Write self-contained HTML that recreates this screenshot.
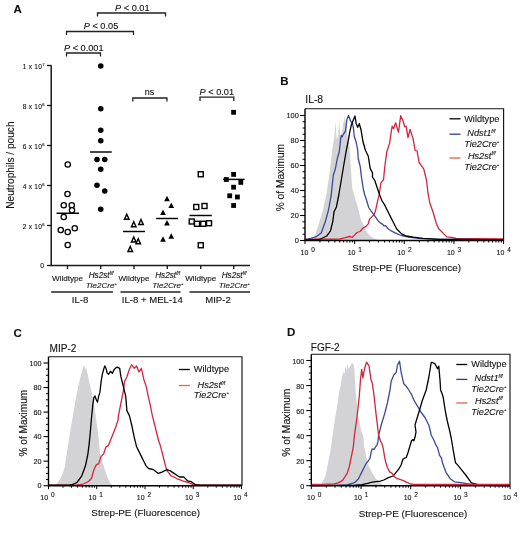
<!DOCTYPE html>
<html><head><meta charset="utf-8"><style>
html,body{margin:0;padding:0;background:#fff;}
svg{display:block;filter:blur(0.3px);}
text{font-family:"Liberation Sans", sans-serif;fill:#111;stroke:#1a1a1a;stroke-width:0.12px;}
</style></head><body>
<svg width="520" height="559" viewBox="0 0 520 559">
<rect width="520" height="559" fill="#fff"/>
<text x="13.5" y="13" font-size="11.5" font-weight="bold">A</text>
<path d="M97.5 16.5 V13.0 H165.5 V16.5" fill="none" stroke="#222" stroke-width="1.3"/>
<path d="M66.5 35.0 V31.5 H133.5 V35.0" fill="none" stroke="#222" stroke-width="1.3"/>
<path d="M66.5 56.5 V53.0 H100.5 V56.5" fill="none" stroke="#222" stroke-width="1.3"/>
<path d="M132.8 101.5 V98.0 H166.9 V101.5" fill="none" stroke="#222" stroke-width="1.3"/>
<path d="M200.0 101.0 V97.2 H233.8 V101.0" fill="none" stroke="#222" stroke-width="1.3"/>
<text x="132.3" y="10.5" font-size="9.2" text-anchor="middle"><tspan font-style="italic">P</tspan> &lt; 0.01</text>
<text x="101.0" y="29.0" font-size="9.2" text-anchor="middle"><tspan font-style="italic">P</tspan> &lt; 0.05</text>
<text x="83.8" y="51.0" font-size="9.2" text-anchor="middle"><tspan font-style="italic">P</tspan> &lt; 0.001</text>
<text x="216.8" y="94.8" font-size="9.2" text-anchor="middle"><tspan font-style="italic">P</tspan> &lt; 0.01</text>
<text x="149.5" y="95" font-size="9" text-anchor="middle">ns</text>
<path d="M51.2 65.5 V265.5 H250" fill="none" stroke="#1a1a1a" stroke-width="1.5"/>
<line x1="47" y1="265.5" x2="51.5" y2="265.5" stroke="#111" stroke-width="1.3"/>
<text x="44" y="268.3" font-size="6.8" text-anchor="end" fill="#222">0</text>
<line x1="47" y1="225.5" x2="51.5" y2="225.5" stroke="#111" stroke-width="1.3"/>
<text x="44.8" y="228.7" font-size="6.6" letter-spacing="0.25" text-anchor="end" fill="#222">2 x 10<tspan font-size="4.2" dy="-2.7">6</tspan></text>
<line x1="47" y1="185.5" x2="51.5" y2="185.5" stroke="#111" stroke-width="1.3"/>
<text x="44.8" y="188.7" font-size="6.6" letter-spacing="0.25" text-anchor="end" fill="#222">4 x 10<tspan font-size="4.2" dy="-2.7">6</tspan></text>
<line x1="47" y1="145.5" x2="51.5" y2="145.5" stroke="#111" stroke-width="1.3"/>
<text x="44.8" y="148.7" font-size="6.6" letter-spacing="0.25" text-anchor="end" fill="#222">6 x 10<tspan font-size="4.2" dy="-2.7">6</tspan></text>
<line x1="47" y1="105.5" x2="51.5" y2="105.5" stroke="#111" stroke-width="1.3"/>
<text x="44.8" y="108.7" font-size="6.6" letter-spacing="0.25" text-anchor="end" fill="#222">8 x 10<tspan font-size="4.2" dy="-2.7">6</tspan></text>
<line x1="47" y1="65.5" x2="51.5" y2="65.5" stroke="#111" stroke-width="1.3"/>
<text x="44.8" y="68.7" font-size="6.6" letter-spacing="0.25" text-anchor="end" fill="#222">1 x 10<tspan font-size="4.2" dy="-2.7">7</tspan></text>
<line x1="67.50" y1="265.5" x2="67.50" y2="269" stroke="#111" stroke-width="1.3"/>
<line x1="100.75" y1="265.5" x2="100.75" y2="269" stroke="#111" stroke-width="1.3"/>
<line x1="134.00" y1="265.5" x2="134.00" y2="269" stroke="#111" stroke-width="1.3"/>
<line x1="167.25" y1="265.5" x2="167.25" y2="269" stroke="#111" stroke-width="1.3"/>
<line x1="200.75" y1="265.5" x2="200.75" y2="269" stroke="#111" stroke-width="1.3"/>
<line x1="233.75" y1="265.5" x2="233.75" y2="269" stroke="#111" stroke-width="1.3"/>
<text x="67.50" y="281.4" font-size="8.1" text-anchor="middle">Wildtype</text>
<text x="101.05" y="278.1" font-size="8.2" font-style="italic" text-anchor="middle">Hs2st<tspan font-size="4.5" dy="-3">f/f</tspan></text>
<text x="101.25" y="288.3" font-size="8.1" font-style="italic" text-anchor="middle">Tie2Cre<tspan font-size="4" dy="-3.4">+</tspan></text>
<text x="134.00" y="281.4" font-size="8.1" text-anchor="middle">Wildtype</text>
<text x="167.55" y="278.1" font-size="8.2" font-style="italic" text-anchor="middle">Hs2st<tspan font-size="4.5" dy="-3">f/f</tspan></text>
<text x="167.75" y="288.3" font-size="8.1" font-style="italic" text-anchor="middle">Tie2Cre<tspan font-size="4" dy="-3.4">+</tspan></text>
<text x="200.75" y="281.4" font-size="8.1" text-anchor="middle">Wildtype</text>
<text x="234.05" y="278.1" font-size="8.2" font-style="italic" text-anchor="middle">Hs2st<tspan font-size="4.5" dy="-3">f/f</tspan></text>
<text x="234.25" y="288.3" font-size="8.1" font-style="italic" text-anchor="middle">Tie2Cre<tspan font-size="4" dy="-3.4">+</tspan></text>
<line x1="51.25" y1="292" x2="113.00" y2="292" stroke="#222" stroke-width="1.6"/>
<text x="80.00" y="302.8" font-size="9.6" text-anchor="middle">IL-8</text>
<line x1="120.50" y1="292" x2="180.50" y2="292" stroke="#222" stroke-width="1.6"/>
<text x="152.25" y="302.8" font-size="9.6" text-anchor="middle">IL-8 + MEL-14</text>
<line x1="189.50" y1="292" x2="250.00" y2="292" stroke="#222" stroke-width="1.6"/>
<text x="218.00" y="302.8" font-size="9.6" text-anchor="middle">MIP-2</text>
<text transform="translate(14.2,165.1) rotate(-90)" font-size="10.15" text-anchor="middle">Neutrophils / pouch</text>
<circle cx="67.75" cy="164.50" r="2.65" fill="#fff" stroke="#000" stroke-width="1.3"/>
<circle cx="67.50" cy="194.00" r="2.65" fill="#fff" stroke="#000" stroke-width="1.3"/>
<circle cx="63.75" cy="205.25" r="2.65" fill="#fff" stroke="#000" stroke-width="1.3"/>
<circle cx="71.75" cy="205.25" r="2.65" fill="#fff" stroke="#000" stroke-width="1.3"/>
<circle cx="72.00" cy="210.25" r="2.65" fill="#fff" stroke="#000" stroke-width="1.3"/>
<circle cx="63.75" cy="217.00" r="2.65" fill="#fff" stroke="#000" stroke-width="1.3"/>
<circle cx="60.75" cy="230.00" r="2.65" fill="#fff" stroke="#000" stroke-width="1.3"/>
<circle cx="67.75" cy="232.00" r="2.65" fill="#fff" stroke="#000" stroke-width="1.3"/>
<circle cx="74.75" cy="228.25" r="2.65" fill="#fff" stroke="#000" stroke-width="1.3"/>
<circle cx="67.75" cy="245.00" r="2.65" fill="#fff" stroke="#000" stroke-width="1.3"/>
<circle cx="100.75" cy="66.00" r="2.8" fill="#000"/>
<circle cx="100.75" cy="108.75" r="2.8" fill="#000"/>
<circle cx="100.75" cy="130.25" r="2.8" fill="#000"/>
<circle cx="100.75" cy="140.75" r="2.8" fill="#000"/>
<circle cx="97.00" cy="159.50" r="2.8" fill="#000"/>
<circle cx="104.75" cy="159.50" r="2.8" fill="#000"/>
<circle cx="100.75" cy="169.25" r="2.8" fill="#000"/>
<circle cx="97.00" cy="185.25" r="2.8" fill="#000"/>
<circle cx="104.75" cy="191.00" r="2.8" fill="#000"/>
<circle cx="100.75" cy="209.25" r="2.8" fill="#000"/>
<path d="M126.75 214.30 L129.00 219.20 L124.50 219.20 Z" fill="#fff" stroke="#000" stroke-width="1.45" stroke-linejoin="miter"/>
<path d="M133.75 221.80 L136.00 226.70 L131.50 226.70 Z" fill="#fff" stroke="#000" stroke-width="1.45" stroke-linejoin="miter"/>
<path d="M141.00 219.55 L143.25 224.45 L138.75 224.45 Z" fill="#fff" stroke="#000" stroke-width="1.45" stroke-linejoin="miter"/>
<path d="M133.75 237.05 L136.00 241.95 L131.50 241.95 Z" fill="#fff" stroke="#000" stroke-width="1.45" stroke-linejoin="miter"/>
<path d="M138.25 238.80 L140.50 243.70 L136.00 243.70 Z" fill="#fff" stroke="#000" stroke-width="1.45" stroke-linejoin="miter"/>
<path d="M130.25 246.55 L132.50 251.45 L128.00 251.45 Z" fill="#fff" stroke="#000" stroke-width="1.45" stroke-linejoin="miter"/>
<path d="M167.00 195.75 L169.85 201.25 L164.15 201.25 Z" fill="#000"/>
<path d="M171.25 202.50 L174.10 208.00 L168.40 208.00 Z" fill="#000"/>
<path d="M163.00 209.50 L165.85 215.00 L160.15 215.00 Z" fill="#000"/>
<path d="M167.00 220.00 L169.85 225.50 L164.15 225.50 Z" fill="#000"/>
<path d="M163.00 236.25 L165.85 241.75 L160.15 241.75 Z" fill="#000"/>
<path d="M171.25 233.25 L174.10 238.75 L168.40 238.75 Z" fill="#000"/>
<rect x="198.25" y="171.75" width="5.0" height="5.0" fill="#fff" stroke="#000" stroke-width="1.4"/>
<rect x="193.75" y="204.50" width="5.0" height="5.0" fill="#fff" stroke="#000" stroke-width="1.4"/>
<rect x="202.00" y="203.50" width="5.0" height="5.0" fill="#fff" stroke="#000" stroke-width="1.4"/>
<rect x="189.25" y="219.00" width="5.0" height="5.0" fill="#fff" stroke="#000" stroke-width="1.4"/>
<rect x="194.50" y="221.30" width="5.0" height="5.0" fill="#fff" stroke="#000" stroke-width="1.4"/>
<rect x="200.75" y="221.30" width="5.0" height="5.0" fill="#fff" stroke="#000" stroke-width="1.4"/>
<rect x="206.50" y="220.70" width="5.0" height="5.0" fill="#fff" stroke="#000" stroke-width="1.4"/>
<rect x="198.25" y="242.75" width="5.0" height="5.0" fill="#fff" stroke="#000" stroke-width="1.4"/>
<rect x="231.20" y="109.90" width="4.8" height="4.8" fill="#000"/>
<rect x="231.20" y="172.00" width="4.8" height="4.8" fill="#000"/>
<rect x="223.90" y="177.10" width="4.8" height="4.8" fill="#000"/>
<rect x="238.40" y="180.00" width="4.8" height="4.8" fill="#000"/>
<rect x="231.20" y="184.80" width="4.8" height="4.8" fill="#000"/>
<rect x="227.30" y="193.40" width="4.8" height="4.8" fill="#000"/>
<rect x="235.00" y="194.60" width="4.8" height="4.8" fill="#000"/>
<rect x="231.20" y="203.10" width="4.8" height="4.8" fill="#000"/>
<line x1="56.50" y1="213.25" x2="79.00" y2="213.25" stroke="#000" stroke-width="1.45"/>
<line x1="90.00" y1="152.00" x2="111.75" y2="152.00" stroke="#000" stroke-width="1.45"/>
<line x1="123.00" y1="231.50" x2="145.00" y2="231.50" stroke="#000" stroke-width="1.45"/>
<line x1="156.25" y1="218.50" x2="178.00" y2="218.50" stroke="#000" stroke-width="1.45"/>
<line x1="189.50" y1="215.50" x2="211.75" y2="215.50" stroke="#000" stroke-width="1.45"/>
<line x1="223.00" y1="179.40" x2="244.60" y2="179.40" stroke="#000" stroke-width="1.45"/>
<text x="280.30" y="85.20" font-size="11.5" font-weight="bold">B</text>
<text x="305.30" y="103.00" font-size="10.30">IL-8</text>
<polygon points="305.0,240.5 310.0,240.3 313.5,239.5 316.5,231.0 319.5,221.5 323.1,209.5 326.7,192.5 329.2,175.6 331.6,156.3 333.2,143.0 334.2,139.0 335.6,121.0 336.6,139.0 338.0,137.0 339.2,119.0 340.3,137.0 341.8,133.0 343.2,124.0 344.6,116.5 346.0,124.0 347.2,134.0 349.4,145.0 350.9,168.4 352.1,187.7 354.2,195.0 357.1,204.6 359.5,214.2 361.0,220.0 362.9,223.8 364.8,228.7 366.7,231.5 369.6,235.4 373.5,238.3 376.3,239.4 378.0,240.5" fill="#d3d3d5"/>
<polyline points="305.0,239.2 335.0,239.2 339.8,238.8 344.6,237.8 349.4,236.5 352.3,237.3 354.2,235.4 357.1,232.5 360.0,231.5 362.9,228.2 365.8,226.7 368.2,223.8 369.6,219.0 371.5,217.1 373.9,214.7 375.4,211.3 376.8,204.6 378.3,197.9 379.2,195.0 380.8,183.1 382.8,180.4 383.5,180.0 384.8,166.5 386.8,151.7 389.5,143.6 391.5,130.2 392.2,126.2 393.6,128.8 395.6,122.8 398.5,132.2 400.7,115.7 403.0,120.8 404.7,126.8 406.1,126.2 408.0,137.6 410.1,129.5 413.1,138.9 415.1,150.4 417.1,151.0 419.1,162.5 421.1,165.2 423.8,169.2 425.2,175.0 426.5,180.0 427.9,192.5 429.9,203.3 433.1,212.3 436.2,223.0 438.5,228.5 441.5,231.5 444.6,234.6 446.9,236.9 451.5,237.4 456.2,238.5 503.6,238.8" fill="none" stroke="#d4253d" stroke-width="1.3" stroke-linejoin="round"/>
<polyline points="305.0,240.0 309.0,238.9 315.8,236.9 321.2,232.9 325.2,222.1 328.5,210.0 331.2,195.2 333.3,175.0 335.3,169.2 337.3,158.5 339.3,151.7 340.4,140.8 341.2,135.4 342.3,136.9 343.1,134.6 344.2,133.1 345.4,131.5 346.2,125.4 346.9,119.2 348.5,115.4 350.8,121.5 352.3,122.7 353.5,128.5 354.2,136.2 356.2,142.3 357.7,150.0 358.2,158.5 360.2,166.5 361.5,177.3 363.5,190.0 364.8,195.0 366.7,200.8 368.7,207.5 370.6,210.4 373.5,214.2 376.3,218.1 378.3,221.0 380.2,222.9 382.1,223.8 384.0,225.8 385.7,225.6 388.1,228.8 391.7,231.2 396.6,233.6 401.4,235.5 408.6,237.2 418.3,238.4 440.0,239.3 460.0,239.5 503.6,240.0" fill="none" stroke="#3a4a94" stroke-width="1.3" stroke-linejoin="round"/>
<polyline points="305.0,240.0 315.0,239.8 319.5,239.5 326.7,236.0 330.4,231.2 332.8,221.5 334.0,211.9 336.4,207.0 338.8,195.0 341.2,180.5 343.6,166.0 346.1,151.5 348.5,139.4 349.7,132.2 351.4,124.9 353.3,120.1 355.0,116.0 356.2,123.7 357.7,127.3 359.3,123.7 361.0,129.7 363.0,141.8 365.4,150.3 368.3,156.3 370.2,168.4 372.6,173.2 372.4,176.8 374.8,180.5 377.2,187.7 379.7,195.0 382.1,201.0 384.5,204.6 386.9,209.5 389.3,214.3 391.7,219.1 394.2,224.0 396.6,228.8 399.0,231.2 401.4,233.6 406.2,236.0 413.5,237.2 423.1,238.4 440.0,239.3 460.0,239.5 503.6,240.0" fill="none" stroke="#000" stroke-width="1.3" stroke-linejoin="round"/>
<path d="M305.00 108.75 H503.60 V240.50" fill="none" stroke="#151515" stroke-width="1.15"/>
<path d="M305.00 108.75 V240.50 H503.60" fill="none" stroke="#000" stroke-width="1.4"/>
<line x1="300.00" y1="240.50" x2="305.00" y2="240.50" stroke="#000" stroke-width="1.1"/>
<text x="298.80" y="243.00" font-size="7.40" text-anchor="end" fill="#222">0</text>
<line x1="302.50" y1="234.25" x2="305.00" y2="234.25" stroke="#000" stroke-width="1"/>
<line x1="302.50" y1="228.00" x2="305.00" y2="228.00" stroke="#000" stroke-width="1"/>
<line x1="302.50" y1="221.75" x2="305.00" y2="221.75" stroke="#000" stroke-width="1"/>
<line x1="300.00" y1="215.50" x2="305.00" y2="215.50" stroke="#000" stroke-width="1.1"/>
<text x="298.80" y="218.00" font-size="7.40" text-anchor="end" fill="#222">20</text>
<line x1="302.50" y1="209.25" x2="305.00" y2="209.25" stroke="#000" stroke-width="1"/>
<line x1="302.50" y1="203.00" x2="305.00" y2="203.00" stroke="#000" stroke-width="1"/>
<line x1="302.50" y1="196.75" x2="305.00" y2="196.75" stroke="#000" stroke-width="1"/>
<line x1="300.00" y1="190.50" x2="305.00" y2="190.50" stroke="#000" stroke-width="1.1"/>
<text x="298.80" y="193.00" font-size="7.40" text-anchor="end" fill="#222">40</text>
<line x1="302.50" y1="184.25" x2="305.00" y2="184.25" stroke="#000" stroke-width="1"/>
<line x1="302.50" y1="178.00" x2="305.00" y2="178.00" stroke="#000" stroke-width="1"/>
<line x1="302.50" y1="171.75" x2="305.00" y2="171.75" stroke="#000" stroke-width="1"/>
<line x1="300.00" y1="165.50" x2="305.00" y2="165.50" stroke="#000" stroke-width="1.1"/>
<text x="298.80" y="168.00" font-size="7.40" text-anchor="end" fill="#222">60</text>
<line x1="302.50" y1="159.25" x2="305.00" y2="159.25" stroke="#000" stroke-width="1"/>
<line x1="302.50" y1="153.00" x2="305.00" y2="153.00" stroke="#000" stroke-width="1"/>
<line x1="302.50" y1="146.75" x2="305.00" y2="146.75" stroke="#000" stroke-width="1"/>
<line x1="300.00" y1="140.50" x2="305.00" y2="140.50" stroke="#000" stroke-width="1.1"/>
<text x="298.80" y="143.00" font-size="7.40" text-anchor="end" fill="#222">80</text>
<line x1="302.50" y1="134.25" x2="305.00" y2="134.25" stroke="#000" stroke-width="1"/>
<line x1="302.50" y1="128.00" x2="305.00" y2="128.00" stroke="#000" stroke-width="1"/>
<line x1="302.50" y1="121.75" x2="305.00" y2="121.75" stroke="#000" stroke-width="1"/>
<line x1="300.00" y1="115.50" x2="305.00" y2="115.50" stroke="#000" stroke-width="1.1"/>
<text x="298.80" y="118.00" font-size="7.40" text-anchor="end" fill="#222">100</text>
<line x1="305.00" y1="240.50" x2="305.00" y2="244.00" stroke="#000" stroke-width="1"/>
<line x1="319.95" y1="240.50" x2="319.95" y2="242.50" stroke="#000" stroke-width="1"/>
<line x1="328.69" y1="240.50" x2="328.69" y2="242.50" stroke="#000" stroke-width="1"/>
<line x1="334.89" y1="240.50" x2="334.89" y2="242.50" stroke="#000" stroke-width="1"/>
<line x1="339.70" y1="240.50" x2="339.70" y2="242.50" stroke="#000" stroke-width="1"/>
<line x1="343.64" y1="240.50" x2="343.64" y2="242.50" stroke="#000" stroke-width="1"/>
<line x1="346.96" y1="240.50" x2="346.96" y2="242.50" stroke="#000" stroke-width="1"/>
<line x1="349.84" y1="240.50" x2="349.84" y2="242.50" stroke="#000" stroke-width="1"/>
<line x1="352.38" y1="240.50" x2="352.38" y2="242.50" stroke="#000" stroke-width="1"/>
<line x1="354.65" y1="240.50" x2="354.65" y2="244.00" stroke="#000" stroke-width="1"/>
<line x1="369.60" y1="240.50" x2="369.60" y2="242.50" stroke="#000" stroke-width="1"/>
<line x1="378.34" y1="240.50" x2="378.34" y2="242.50" stroke="#000" stroke-width="1"/>
<line x1="384.54" y1="240.50" x2="384.54" y2="242.50" stroke="#000" stroke-width="1"/>
<line x1="389.35" y1="240.50" x2="389.35" y2="242.50" stroke="#000" stroke-width="1"/>
<line x1="393.29" y1="240.50" x2="393.29" y2="242.50" stroke="#000" stroke-width="1"/>
<line x1="396.61" y1="240.50" x2="396.61" y2="242.50" stroke="#000" stroke-width="1"/>
<line x1="399.49" y1="240.50" x2="399.49" y2="242.50" stroke="#000" stroke-width="1"/>
<line x1="402.03" y1="240.50" x2="402.03" y2="242.50" stroke="#000" stroke-width="1"/>
<line x1="404.30" y1="240.50" x2="404.30" y2="244.00" stroke="#000" stroke-width="1"/>
<line x1="419.25" y1="240.50" x2="419.25" y2="242.50" stroke="#000" stroke-width="1"/>
<line x1="427.99" y1="240.50" x2="427.99" y2="242.50" stroke="#000" stroke-width="1"/>
<line x1="434.19" y1="240.50" x2="434.19" y2="242.50" stroke="#000" stroke-width="1"/>
<line x1="439.00" y1="240.50" x2="439.00" y2="242.50" stroke="#000" stroke-width="1"/>
<line x1="442.94" y1="240.50" x2="442.94" y2="242.50" stroke="#000" stroke-width="1"/>
<line x1="446.26" y1="240.50" x2="446.26" y2="242.50" stroke="#000" stroke-width="1"/>
<line x1="449.14" y1="240.50" x2="449.14" y2="242.50" stroke="#000" stroke-width="1"/>
<line x1="451.68" y1="240.50" x2="451.68" y2="242.50" stroke="#000" stroke-width="1"/>
<line x1="453.95" y1="240.50" x2="453.95" y2="244.00" stroke="#000" stroke-width="1"/>
<line x1="468.90" y1="240.50" x2="468.90" y2="242.50" stroke="#000" stroke-width="1"/>
<line x1="477.64" y1="240.50" x2="477.64" y2="242.50" stroke="#000" stroke-width="1"/>
<line x1="483.84" y1="240.50" x2="483.84" y2="242.50" stroke="#000" stroke-width="1"/>
<line x1="488.65" y1="240.50" x2="488.65" y2="242.50" stroke="#000" stroke-width="1"/>
<line x1="492.59" y1="240.50" x2="492.59" y2="242.50" stroke="#000" stroke-width="1"/>
<line x1="495.91" y1="240.50" x2="495.91" y2="242.50" stroke="#000" stroke-width="1"/>
<line x1="498.79" y1="240.50" x2="498.79" y2="242.50" stroke="#000" stroke-width="1"/>
<line x1="501.33" y1="240.50" x2="501.33" y2="242.50" stroke="#000" stroke-width="1"/>
<line x1="503.60" y1="240.50" x2="503.60" y2="244.00" stroke="#000" stroke-width="1"/>
<text x="308.40" y="255.00" font-size="7" text-anchor="end" fill="#222">10</text>
<text x="311.20" y="251.60" font-size="6.5" fill="#222">0</text>
<text x="355.45" y="255.00" font-size="7" text-anchor="end" fill="#222">10</text>
<text x="358.25" y="251.60" font-size="6.5" fill="#222">1</text>
<text x="405.10" y="255.00" font-size="7" text-anchor="end" fill="#222">10</text>
<text x="407.90" y="251.60" font-size="6.5" fill="#222">2</text>
<text x="454.75" y="255.00" font-size="7" text-anchor="end" fill="#222">10</text>
<text x="457.55" y="251.60" font-size="6.5" fill="#222">3</text>
<text x="504.40" y="255.00" font-size="7" text-anchor="end" fill="#222">10</text>
<text x="507.20" y="251.60" font-size="6.5" fill="#222">4</text>
<text x="406.70" y="270.90" font-size="9.9" text-anchor="middle">Strep-PE (Fluorescence)</text>
<text transform="translate(283.90,177.60) rotate(-90)" font-size="10.20" text-anchor="middle">% of Maximum</text>
<line x1="449.50" y1="118.80" x2="460.50" y2="118.80" stroke="#000" stroke-width="1.3"/>
<text x="464.20" y="121.60" font-size="9.2">Wildtype</text>
<line x1="449.50" y1="134.20" x2="460.50" y2="134.20" stroke="#2c3f86" stroke-width="1.3"/>
<text x="467.30" y="136.20" font-size="9.2" font-style="italic">Ndst1<tspan font-size="5" dy="-3.2">f/f</tspan></text>
<text x="464.20" y="146.80" font-size="9.2" font-style="italic">Tie2Cre<tspan font-size="4.3" dy="-3.6">+</tspan></text>
<line x1="449.50" y1="158.00" x2="460.50" y2="158.00" stroke="#e2653f" stroke-width="1.3"/>
<text x="467.90" y="158.60" font-size="9.2" font-style="italic">Hs2st<tspan font-size="5" dy="-3.2">f/f</tspan></text>
<text x="464.20" y="169.80" font-size="9.2" font-style="italic">Tie2Cre<tspan font-size="4.3" dy="-3.6">+</tspan></text>
<text x="13.50" y="336.80" font-size="11.5" font-weight="bold">C</text>
<text x="49.50" y="351.60" font-size="10.10">MIP-2</text>
<polygon points="48.5,485.5 53.0,485.5 55.4,484.8 57.2,483.0 59.8,479.4 62.5,474.0 64.8,466.9 66.1,457.9 67.5,449.0 68.8,440.0 70.9,427.5 73.4,413.0 75.8,398.5 78.2,386.4 80.6,376.7 82.0,371.0 83.0,368.3 84.2,364.7 85.4,369.5 86.2,367.0 86.9,371.9 88.0,375.0 89.1,381.6 91.5,391.2 93.9,403.3 96.3,420.2 98.7,439.5 99.9,451.6 102.3,461.3 106.0,473.4 109.6,482.0 112.0,485.0 114.0,485.5" fill="#d3d3d5"/>
<polyline points="48.5,485.2 77.0,485.0 81.8,484.5 86.6,482.5 89.0,481.0 91.5,478.2 93.9,469.7 96.3,464.9 98.7,463.7 101.1,456.4 103.6,454.0 106.0,446.8 108.4,445.6 110.8,439.5 113.2,433.5 115.6,427.5 118.0,420.2 118.5,415.4 120.9,403.3 123.3,391.2 124.5,381.6 126.9,376.7 129.3,369.5 131.7,364.7 134.2,368.3 136.6,365.9 139.0,371.9 141.4,368.3 143.8,379.2 146.2,386.4 148.2,396.1 149.9,403.3 152.3,415.4 154.7,425.0 155.9,429.9 158.3,439.5 160.7,446.8 161.5,450.0 163.1,456.4 164.4,461.5 165.6,466.1 167.3,471.2 169.2,473.4 171.2,476.0 174.0,477.0 176.9,478.8 178.8,479.4 182.7,480.8 188.5,482.7 193.3,484.6 200.0,485.2 242.0,485.2" fill="none" stroke="#d4253d" stroke-width="1.3" stroke-linejoin="round"/>
<polyline points="48.5,485.2 70.0,485.0 72.2,484.6 77.0,482.5 81.8,475.8 85.4,466.1 87.9,454.0 89.1,444.4 90.3,432.3 91.5,417.8 92.7,405.7 93.9,397.3 95.0,396.0 96.3,399.7 97.5,402.1 98.7,396.1 99.9,392.4 101.1,381.6 102.3,374.3 103.6,369.5 104.8,365.9 106.0,368.3 107.2,373.1 108.6,374.2 110.5,371.3 112.4,373.3 114.3,369.4 116.3,367.5 117.2,367.1 119.7,368.3 120.9,376.7 123.3,386.4 125.7,396.1 126.9,410.6 129.3,415.4 131.7,425.0 134.2,437.1 136.6,446.8 139.0,451.6 141.4,456.4 143.8,461.3 146.2,466.1 148.6,468.5 153.5,469.7 158.3,473.4 161.9,472.2 166.8,469.7 170.4,470.9 174.0,473.4 177.6,475.8 179.5,477.0 183.7,476.9 187.5,480.8 191.3,481.7 195.2,484.6 200.0,485.2 242.0,485.2" fill="none" stroke="#000" stroke-width="1.3" stroke-linejoin="round"/>
<path d="M48.50 356.75 H242.00 V485.70" fill="none" stroke="#151515" stroke-width="1.15"/>
<path d="M48.50 356.75 V485.70 H242.00" fill="none" stroke="#000" stroke-width="1.4"/>
<line x1="43.50" y1="485.70" x2="48.50" y2="485.70" stroke="#000" stroke-width="1.1"/>
<text x="41.60" y="488.20" font-size="7.20" text-anchor="end" fill="#222">0</text>
<line x1="46.00" y1="479.56" x2="48.50" y2="479.56" stroke="#000" stroke-width="1"/>
<line x1="46.00" y1="473.43" x2="48.50" y2="473.43" stroke="#000" stroke-width="1"/>
<line x1="46.00" y1="467.29" x2="48.50" y2="467.29" stroke="#000" stroke-width="1"/>
<line x1="43.50" y1="461.16" x2="48.50" y2="461.16" stroke="#000" stroke-width="1.1"/>
<text x="41.60" y="463.66" font-size="7.20" text-anchor="end" fill="#222">20</text>
<line x1="46.00" y1="455.02" x2="48.50" y2="455.02" stroke="#000" stroke-width="1"/>
<line x1="46.00" y1="448.89" x2="48.50" y2="448.89" stroke="#000" stroke-width="1"/>
<line x1="46.00" y1="442.75" x2="48.50" y2="442.75" stroke="#000" stroke-width="1"/>
<line x1="43.50" y1="436.62" x2="48.50" y2="436.62" stroke="#000" stroke-width="1.1"/>
<text x="41.60" y="439.12" font-size="7.20" text-anchor="end" fill="#222">40</text>
<line x1="46.00" y1="430.49" x2="48.50" y2="430.49" stroke="#000" stroke-width="1"/>
<line x1="46.00" y1="424.35" x2="48.50" y2="424.35" stroke="#000" stroke-width="1"/>
<line x1="46.00" y1="418.21" x2="48.50" y2="418.21" stroke="#000" stroke-width="1"/>
<line x1="43.50" y1="412.08" x2="48.50" y2="412.08" stroke="#000" stroke-width="1.1"/>
<text x="41.60" y="414.58" font-size="7.20" text-anchor="end" fill="#222">60</text>
<line x1="46.00" y1="405.94" x2="48.50" y2="405.94" stroke="#000" stroke-width="1"/>
<line x1="46.00" y1="399.81" x2="48.50" y2="399.81" stroke="#000" stroke-width="1"/>
<line x1="46.00" y1="393.68" x2="48.50" y2="393.68" stroke="#000" stroke-width="1"/>
<line x1="43.50" y1="387.54" x2="48.50" y2="387.54" stroke="#000" stroke-width="1.1"/>
<text x="41.60" y="390.04" font-size="7.20" text-anchor="end" fill="#222">80</text>
<line x1="46.00" y1="381.40" x2="48.50" y2="381.40" stroke="#000" stroke-width="1"/>
<line x1="46.00" y1="375.27" x2="48.50" y2="375.27" stroke="#000" stroke-width="1"/>
<line x1="46.00" y1="369.13" x2="48.50" y2="369.13" stroke="#000" stroke-width="1"/>
<line x1="43.50" y1="363.00" x2="48.50" y2="363.00" stroke="#000" stroke-width="1.1"/>
<text x="41.60" y="365.50" font-size="7.20" text-anchor="end" fill="#222">100</text>
<line x1="48.50" y1="485.70" x2="48.50" y2="489.20" stroke="#000" stroke-width="1"/>
<line x1="63.02" y1="485.70" x2="63.02" y2="487.70" stroke="#000" stroke-width="1"/>
<line x1="71.52" y1="485.70" x2="71.52" y2="487.70" stroke="#000" stroke-width="1"/>
<line x1="77.55" y1="485.70" x2="77.55" y2="487.70" stroke="#000" stroke-width="1"/>
<line x1="82.23" y1="485.70" x2="82.23" y2="487.70" stroke="#000" stroke-width="1"/>
<line x1="86.05" y1="485.70" x2="86.05" y2="487.70" stroke="#000" stroke-width="1"/>
<line x1="89.28" y1="485.70" x2="89.28" y2="487.70" stroke="#000" stroke-width="1"/>
<line x1="92.07" y1="485.70" x2="92.07" y2="487.70" stroke="#000" stroke-width="1"/>
<line x1="94.54" y1="485.70" x2="94.54" y2="487.70" stroke="#000" stroke-width="1"/>
<line x1="96.75" y1="485.70" x2="96.75" y2="489.20" stroke="#000" stroke-width="1"/>
<line x1="111.27" y1="485.70" x2="111.27" y2="487.70" stroke="#000" stroke-width="1"/>
<line x1="119.77" y1="485.70" x2="119.77" y2="487.70" stroke="#000" stroke-width="1"/>
<line x1="125.80" y1="485.70" x2="125.80" y2="487.70" stroke="#000" stroke-width="1"/>
<line x1="130.48" y1="485.70" x2="130.48" y2="487.70" stroke="#000" stroke-width="1"/>
<line x1="134.30" y1="485.70" x2="134.30" y2="487.70" stroke="#000" stroke-width="1"/>
<line x1="137.53" y1="485.70" x2="137.53" y2="487.70" stroke="#000" stroke-width="1"/>
<line x1="140.32" y1="485.70" x2="140.32" y2="487.70" stroke="#000" stroke-width="1"/>
<line x1="142.79" y1="485.70" x2="142.79" y2="487.70" stroke="#000" stroke-width="1"/>
<line x1="145.00" y1="485.70" x2="145.00" y2="489.20" stroke="#000" stroke-width="1"/>
<line x1="159.52" y1="485.70" x2="159.52" y2="487.70" stroke="#000" stroke-width="1"/>
<line x1="168.02" y1="485.70" x2="168.02" y2="487.70" stroke="#000" stroke-width="1"/>
<line x1="174.05" y1="485.70" x2="174.05" y2="487.70" stroke="#000" stroke-width="1"/>
<line x1="178.73" y1="485.70" x2="178.73" y2="487.70" stroke="#000" stroke-width="1"/>
<line x1="182.55" y1="485.70" x2="182.55" y2="487.70" stroke="#000" stroke-width="1"/>
<line x1="185.78" y1="485.70" x2="185.78" y2="487.70" stroke="#000" stroke-width="1"/>
<line x1="188.57" y1="485.70" x2="188.57" y2="487.70" stroke="#000" stroke-width="1"/>
<line x1="191.04" y1="485.70" x2="191.04" y2="487.70" stroke="#000" stroke-width="1"/>
<line x1="193.25" y1="485.70" x2="193.25" y2="489.20" stroke="#000" stroke-width="1"/>
<line x1="207.77" y1="485.70" x2="207.77" y2="487.70" stroke="#000" stroke-width="1"/>
<line x1="216.27" y1="485.70" x2="216.27" y2="487.70" stroke="#000" stroke-width="1"/>
<line x1="222.30" y1="485.70" x2="222.30" y2="487.70" stroke="#000" stroke-width="1"/>
<line x1="226.98" y1="485.70" x2="226.98" y2="487.70" stroke="#000" stroke-width="1"/>
<line x1="230.80" y1="485.70" x2="230.80" y2="487.70" stroke="#000" stroke-width="1"/>
<line x1="234.03" y1="485.70" x2="234.03" y2="487.70" stroke="#000" stroke-width="1"/>
<line x1="236.82" y1="485.70" x2="236.82" y2="487.70" stroke="#000" stroke-width="1"/>
<line x1="239.29" y1="485.70" x2="239.29" y2="487.70" stroke="#000" stroke-width="1"/>
<line x1="241.50" y1="485.70" x2="241.50" y2="489.20" stroke="#000" stroke-width="1"/>
<text x="48.10" y="500.20" font-size="7" text-anchor="end" fill="#222">10</text>
<text x="50.90" y="496.80" font-size="6.5" fill="#222">0</text>
<text x="96.35" y="500.20" font-size="7" text-anchor="end" fill="#222">10</text>
<text x="99.15" y="496.80" font-size="6.5" fill="#222">1</text>
<text x="144.60" y="500.20" font-size="7" text-anchor="end" fill="#222">10</text>
<text x="147.40" y="496.80" font-size="6.5" fill="#222">2</text>
<text x="192.85" y="500.20" font-size="7" text-anchor="end" fill="#222">10</text>
<text x="195.65" y="496.80" font-size="6.5" fill="#222">3</text>
<text x="241.10" y="500.20" font-size="7" text-anchor="end" fill="#222">10</text>
<text x="243.90" y="496.80" font-size="6.5" fill="#222">4</text>
<text x="145.70" y="516.30" font-size="9.9" text-anchor="middle">Strep-PE (Fluorescence)</text>
<text transform="translate(26.70,423.10) rotate(-90)" font-size="10.10" text-anchor="middle">% of Maximum</text>
<line x1="178.80" y1="369.50" x2="189.80" y2="369.50" stroke="#000" stroke-width="1.3"/>
<text x="193.80" y="371.80" font-size="9.2">Wildtype</text>
<line x1="178.80" y1="385.50" x2="189.80" y2="385.50" stroke="#e2653f" stroke-width="1.3"/>
<text x="197.50" y="388.00" font-size="9.2" font-style="italic">Hs2st<tspan font-size="5" dy="-3.2">f/f</tspan></text>
<text x="193.80" y="397.80" font-size="9.2" font-style="italic">Tie2Cre<tspan font-size="4.3" dy="-3.6">+</tspan></text>
<text x="287.00" y="336.40" font-size="11.5" font-weight="bold">D</text>
<text x="310.80" y="351.30" font-size="10.00">FGF-2</text>
<polygon points="311.3,485.5 318.0,485.3 320.7,484.5 323.5,480.0 325.5,475.8 327.9,463.7 330.3,451.6 332.7,434.7 335.2,417.8 337.6,403.3 339.4,390.0 340.5,388.0 341.2,381.6 342.2,376.0 343.6,371.9 344.5,374.0 345.3,368.0 346.0,367.1 347.0,370.0 347.6,363.7 348.7,369.0 350.0,366.5 351.3,364.0 352.4,363.2 353.5,364.0 354.5,369.5 355.2,383.0 355.7,391.2 358.1,415.4 361.5,432.0 363.1,435.0 364.2,446.5 366.5,458.1 368.8,466.1 372.3,473.1 375.8,478.8 379.2,482.3 382.7,484.6 385.0,485.5" fill="#d3d3d5"/>
<polyline points="311.3,485.5 340.0,485.3 347.0,484.8 352.0,483.5 355.0,482.3 358.5,478.8 361.9,471.9 364.2,467.3 366.5,462.7 368.3,461.0 370.0,458.1 371.1,452.3 372.3,448.8 374.0,449.4 375.8,446.5 376.9,445.4 378.1,440.8 378.6,435.0 380.0,430.0 381.2,425.0 385.0,412.5 387.5,402.5 390.0,390.0 391.2,381.2 393.8,375.0 396.2,372.5 397.5,365.0 399.5,361.2 401.2,372.5 403.8,383.8 406.2,386.2 408.8,390.0 411.2,393.8 413.8,400.0 417.5,406.2 421.2,412.5 425.0,417.5 428.8,425.0 430.1,430.0 431.2,435.0 433.8,440.0 436.4,445.9 437.5,447.5 439.6,455.4 441.2,457.5 442.8,463.8 446.0,472.3 450.2,478.7 454.4,481.8 462.9,482.9 473.5,485.0 510.0,485.5" fill="none" stroke="#3a4a94" stroke-width="1.3" stroke-linejoin="round"/>
<polyline points="311.3,485.5 355.0,485.2 361.9,484.6 367.7,483.4 371.1,482.3 375.8,481.7 380.4,481.1 383.8,480.0 388.4,477.7 393.1,476.0 396.5,471.9 398.8,469.0 401.1,465.0 402.9,459.2 404.6,458.1 406.3,457.5 408.1,452.3 409.8,446.5 411.5,440.8 412.7,439.6 413.8,440.8 415.0,437.3 416.0,432.0 415.0,425.0 418.8,412.5 422.5,400.0 426.2,390.0 428.8,377.5 431.2,362.5 432.5,362.5 435.0,363.8 437.5,368.8 438.8,366.2 440.0,380.0 440.6,390.0 442.3,394.2 443.3,397.7 444.4,405.4 445.5,412.0 447.4,421.5 449.5,430.0 451.3,438.5 453.4,451.2 455.5,462.8 457.6,464.9 461.8,470.2 466.1,475.5 471.4,482.9 477.7,484.6 481.9,485.4 510.0,485.5" fill="none" stroke="#000" stroke-width="1.3" stroke-linejoin="round"/>
<polyline points="311.3,484.4 326.2,484.2 334.0,483.8 338.0,482.8 342.4,480.6 347.2,473.4 349.2,467.0 350.9,458.9 353.3,446.8 354.5,434.7 356.9,417.8 359.3,396.1 360.5,379.2 361.7,369.5 362.9,377.9 364.6,368.3 366.6,362.2 369.0,365.9 370.9,379.2 372.2,383.0 373.8,393.6 376.2,415.4 378.6,435.0 380.4,440.8 382.1,444.2 383.3,448.8 384.4,455.8 385.6,461.5 387.3,467.3 389.6,471.9 391.9,473.1 394.2,476.5 396.5,478.3 400.0,479.4 403.4,480.6 406.9,482.3 410.4,484.0 413.8,484.4 510.0,484.5" fill="none" stroke="#d4253d" stroke-width="1.3" stroke-linejoin="round"/>
<path d="M311.30 354.25 H510.00 V485.70" fill="none" stroke="#151515" stroke-width="1.15"/>
<path d="M311.30 354.25 V485.70 H510.00" fill="none" stroke="#000" stroke-width="1.4"/>
<line x1="306.30" y1="485.70" x2="311.30" y2="485.70" stroke="#000" stroke-width="1.1"/>
<text x="304.30" y="489.00" font-size="7.20" text-anchor="end" fill="#222">0</text>
<line x1="308.80" y1="479.44" x2="311.30" y2="479.44" stroke="#000" stroke-width="1"/>
<line x1="308.80" y1="473.18" x2="311.30" y2="473.18" stroke="#000" stroke-width="1"/>
<line x1="308.80" y1="466.92" x2="311.30" y2="466.92" stroke="#000" stroke-width="1"/>
<line x1="306.30" y1="460.66" x2="311.30" y2="460.66" stroke="#000" stroke-width="1.1"/>
<text x="304.30" y="463.96" font-size="7.20" text-anchor="end" fill="#222">20</text>
<line x1="308.80" y1="454.40" x2="311.30" y2="454.40" stroke="#000" stroke-width="1"/>
<line x1="308.80" y1="448.14" x2="311.30" y2="448.14" stroke="#000" stroke-width="1"/>
<line x1="308.80" y1="441.88" x2="311.30" y2="441.88" stroke="#000" stroke-width="1"/>
<line x1="306.30" y1="435.62" x2="311.30" y2="435.62" stroke="#000" stroke-width="1.1"/>
<text x="304.30" y="438.92" font-size="7.20" text-anchor="end" fill="#222">40</text>
<line x1="308.80" y1="429.36" x2="311.30" y2="429.36" stroke="#000" stroke-width="1"/>
<line x1="308.80" y1="423.10" x2="311.30" y2="423.10" stroke="#000" stroke-width="1"/>
<line x1="308.80" y1="416.84" x2="311.30" y2="416.84" stroke="#000" stroke-width="1"/>
<line x1="306.30" y1="410.58" x2="311.30" y2="410.58" stroke="#000" stroke-width="1.1"/>
<text x="304.30" y="413.88" font-size="7.20" text-anchor="end" fill="#222">60</text>
<line x1="308.80" y1="404.32" x2="311.30" y2="404.32" stroke="#000" stroke-width="1"/>
<line x1="308.80" y1="398.06" x2="311.30" y2="398.06" stroke="#000" stroke-width="1"/>
<line x1="308.80" y1="391.80" x2="311.30" y2="391.80" stroke="#000" stroke-width="1"/>
<line x1="306.30" y1="385.54" x2="311.30" y2="385.54" stroke="#000" stroke-width="1.1"/>
<text x="304.30" y="388.84" font-size="7.20" text-anchor="end" fill="#222">80</text>
<line x1="308.80" y1="379.28" x2="311.30" y2="379.28" stroke="#000" stroke-width="1"/>
<line x1="308.80" y1="373.02" x2="311.30" y2="373.02" stroke="#000" stroke-width="1"/>
<line x1="308.80" y1="366.76" x2="311.30" y2="366.76" stroke="#000" stroke-width="1"/>
<line x1="306.30" y1="360.50" x2="311.30" y2="360.50" stroke="#000" stroke-width="1.1"/>
<text x="304.30" y="363.80" font-size="7.20" text-anchor="end" fill="#222">100</text>
<line x1="311.30" y1="485.70" x2="311.30" y2="489.20" stroke="#000" stroke-width="1"/>
<line x1="326.26" y1="485.70" x2="326.26" y2="487.70" stroke="#000" stroke-width="1"/>
<line x1="335.01" y1="485.70" x2="335.01" y2="487.70" stroke="#000" stroke-width="1"/>
<line x1="341.22" y1="485.70" x2="341.22" y2="487.70" stroke="#000" stroke-width="1"/>
<line x1="346.04" y1="485.70" x2="346.04" y2="487.70" stroke="#000" stroke-width="1"/>
<line x1="349.97" y1="485.70" x2="349.97" y2="487.70" stroke="#000" stroke-width="1"/>
<line x1="353.30" y1="485.70" x2="353.30" y2="487.70" stroke="#000" stroke-width="1"/>
<line x1="356.18" y1="485.70" x2="356.18" y2="487.70" stroke="#000" stroke-width="1"/>
<line x1="358.73" y1="485.70" x2="358.73" y2="487.70" stroke="#000" stroke-width="1"/>
<line x1="361.00" y1="485.70" x2="361.00" y2="489.20" stroke="#000" stroke-width="1"/>
<line x1="375.96" y1="485.70" x2="375.96" y2="487.70" stroke="#000" stroke-width="1"/>
<line x1="384.71" y1="485.70" x2="384.71" y2="487.70" stroke="#000" stroke-width="1"/>
<line x1="390.92" y1="485.70" x2="390.92" y2="487.70" stroke="#000" stroke-width="1"/>
<line x1="395.74" y1="485.70" x2="395.74" y2="487.70" stroke="#000" stroke-width="1"/>
<line x1="399.67" y1="485.70" x2="399.67" y2="487.70" stroke="#000" stroke-width="1"/>
<line x1="403.00" y1="485.70" x2="403.00" y2="487.70" stroke="#000" stroke-width="1"/>
<line x1="405.88" y1="485.70" x2="405.88" y2="487.70" stroke="#000" stroke-width="1"/>
<line x1="408.43" y1="485.70" x2="408.43" y2="487.70" stroke="#000" stroke-width="1"/>
<line x1="410.70" y1="485.70" x2="410.70" y2="489.20" stroke="#000" stroke-width="1"/>
<line x1="425.66" y1="485.70" x2="425.66" y2="487.70" stroke="#000" stroke-width="1"/>
<line x1="434.41" y1="485.70" x2="434.41" y2="487.70" stroke="#000" stroke-width="1"/>
<line x1="440.62" y1="485.70" x2="440.62" y2="487.70" stroke="#000" stroke-width="1"/>
<line x1="445.44" y1="485.70" x2="445.44" y2="487.70" stroke="#000" stroke-width="1"/>
<line x1="449.37" y1="485.70" x2="449.37" y2="487.70" stroke="#000" stroke-width="1"/>
<line x1="452.70" y1="485.70" x2="452.70" y2="487.70" stroke="#000" stroke-width="1"/>
<line x1="455.58" y1="485.70" x2="455.58" y2="487.70" stroke="#000" stroke-width="1"/>
<line x1="458.13" y1="485.70" x2="458.13" y2="487.70" stroke="#000" stroke-width="1"/>
<line x1="460.40" y1="485.70" x2="460.40" y2="489.20" stroke="#000" stroke-width="1"/>
<line x1="475.36" y1="485.70" x2="475.36" y2="487.70" stroke="#000" stroke-width="1"/>
<line x1="484.11" y1="485.70" x2="484.11" y2="487.70" stroke="#000" stroke-width="1"/>
<line x1="490.32" y1="485.70" x2="490.32" y2="487.70" stroke="#000" stroke-width="1"/>
<line x1="495.14" y1="485.70" x2="495.14" y2="487.70" stroke="#000" stroke-width="1"/>
<line x1="499.07" y1="485.70" x2="499.07" y2="487.70" stroke="#000" stroke-width="1"/>
<line x1="502.40" y1="485.70" x2="502.40" y2="487.70" stroke="#000" stroke-width="1"/>
<line x1="505.28" y1="485.70" x2="505.28" y2="487.70" stroke="#000" stroke-width="1"/>
<line x1="507.83" y1="485.70" x2="507.83" y2="487.70" stroke="#000" stroke-width="1"/>
<line x1="510.10" y1="485.70" x2="510.10" y2="489.20" stroke="#000" stroke-width="1"/>
<text x="314.90" y="500.20" font-size="7" text-anchor="end" fill="#222">10</text>
<text x="317.70" y="496.80" font-size="6.5" fill="#222">0</text>
<text x="361.80" y="500.20" font-size="7" text-anchor="end" fill="#222">10</text>
<text x="364.60" y="496.80" font-size="6.5" fill="#222">1</text>
<text x="411.50" y="500.20" font-size="7" text-anchor="end" fill="#222">10</text>
<text x="414.30" y="496.80" font-size="6.5" fill="#222">2</text>
<text x="461.20" y="500.20" font-size="7" text-anchor="end" fill="#222">10</text>
<text x="464.00" y="496.80" font-size="6.5" fill="#222">3</text>
<text x="510.90" y="500.20" font-size="7" text-anchor="end" fill="#222">10</text>
<text x="513.70" y="496.80" font-size="6.5" fill="#222">4</text>
<text x="413.00" y="517.00" font-size="9.9" text-anchor="middle">Strep-PE (Fluorescence)</text>
<text transform="translate(289.80,422.60) rotate(-90)" font-size="10.30" text-anchor="middle">% of Maximum</text>
<line x1="456.30" y1="364.50" x2="467.30" y2="364.50" stroke="#000" stroke-width="1.3"/>
<text x="471.30" y="367.00" font-size="9.2">Wildtype</text>
<line x1="456.30" y1="379.40" x2="467.30" y2="379.40" stroke="#2c3f86" stroke-width="1.3"/>
<text x="474.50" y="381.00" font-size="9.2" font-style="italic">Ndst1<tspan font-size="5" dy="-3.2">f/f</tspan></text>
<text x="471.30" y="391.80" font-size="9.2" font-style="italic">Tie2Cre<tspan font-size="4.3" dy="-3.6">+</tspan></text>
<line x1="456.30" y1="403.00" x2="467.30" y2="403.00" stroke="#e2653f" stroke-width="1.3"/>
<text x="475.00" y="403.50" font-size="9.2" font-style="italic">Hs2st<tspan font-size="5" dy="-3.2">f/f</tspan></text>
<text x="471.30" y="414.50" font-size="9.2" font-style="italic">Tie2Cre<tspan font-size="4.3" dy="-3.6">+</tspan></text>
</svg>
</body></html>
